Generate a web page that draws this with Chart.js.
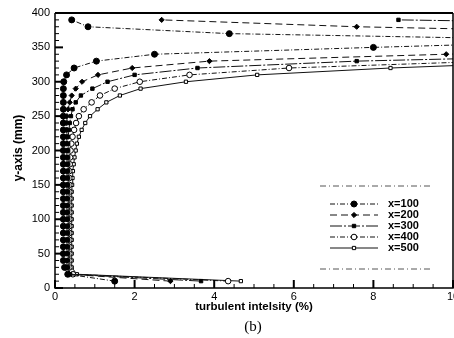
<!DOCTYPE html>
<html>
<head>
<meta charset="utf-8">
<script src="https://cdn.jsdelivr.net/npm/chart.js@4.4.1/dist/chart.umd.min.js"></script>
<style>
  html, body { margin: 0; padding: 0; background: #fff; }
</style>
</head>
<body>
<canvas id="chart" width="454" height="338"></canvas>
<script>
// y positions (mm) of the measuring points
const yLevels = [10, 20, 30, 40, 50, 60, 70, 80, 90, 100,
  110, 120, 130, 140, 150, 160, 170, 180, 190, 200,
  210, 220, 230, 240, 250, 260, 270, 280, 290, 300,
  310, 320, 330, 340, 350, 360, 370, 380, 390];

// turbulent intensity (%) per section (values > 10 run off the frame)
const x100 = [1.5, 0.32, 0.24, 0.21, 0.21, 0.21, 0.21, 0.21, 0.21, 0.21,
  0.21, 0.21, 0.21, 0.21, 0.21, 0.21, 0.21, 0.21, 0.21, 0.21,
  0.21, 0.21, 0.21, 0.21, 0.21, 0.21, 0.21, 0.21, 0.21, 0.22,
  0.29, 0.48, 1.04, 2.5, 8.0, 14, 4.38, 0.83, 0.42];
const x200 = [2.9, 0.36, 0.3, 0.3, 0.3, 0.3, 0.3, 0.3, 0.3, 0.3,
  0.3, 0.3, 0.3, 0.3, 0.3, 0.3, 0.3, 0.3, 0.3, 0.3,
  0.3, 0.3, 0.3, 0.3, 0.3, 0.33, 0.37, 0.42, 0.52, 0.68,
  1.08, 1.94, 3.88, 9.83, 16, 20, 16, 7.58, 2.68];
const x300 = [3.67, 0.38, 0.33, 0.33, 0.33, 0.33, 0.33, 0.33, 0.33, 0.33,
  0.33, 0.33, 0.33, 0.33, 0.33, 0.33, 0.33, 0.33, 0.33, 0.33,
  0.33, 0.33, 0.35, 0.37, 0.4, 0.44, 0.52, 0.65, 0.94, 1.32,
  2.0, 3.58, 7.58, 15, 20, 22, 22, 20, 8.63];
const x400 = [4.35, 0.45, 0.36, 0.36, 0.36, 0.36, 0.36, 0.36, 0.36, 0.36,
  0.36, 0.36, 0.36, 0.36, 0.36, 0.36, 0.36, 0.37, 0.38, 0.39,
  0.41, 0.44, 0.48, 0.53, 0.6, 0.72, 0.92, 1.13, 1.5, 2.13,
  3.38, 5.88, 11];
const x500 = [4.67, 0.55, 0.42, 0.42, 0.42, 0.42, 0.42, 0.42, 0.42, 0.42,
  0.42, 0.42, 0.42, 0.42, 0.43, 0.44, 0.45, 0.47, 0.49, 0.52,
  0.55, 0.6, 0.67, 0.76, 0.88, 1.07, 1.29, 1.63, 2.15, 3.29,
  5.08, 8.43, 13];

const seriesNames = ['x=100', 'x=200', 'x=300', 'x=400', 'x=500'];
const xTicks = [0, 2, 4, 6, 8, 10];
const yTicks = [0, 50, 100, 150, 200, 250, 300, 350, 400];
const xTitle = 'turbulent intelsity (%)';
const yTitle = 'y-axis (mm)';
const caption = '(b)';

const toPoints = xs => xs.map((v, i) => ({ x: v, y: yLevels[i] }));

const styles = [
  { pointStyle: 'circle', radius: 3, fill: '#000', dash: [5, 2, 1, 2] },
  { pointStyle: 'rectRot', radius: 2.6, fill: '#000', dash: [7, 4] },
  { pointStyle: 'rect', radius: 2.4, fill: '#000', dash: [12, 2, 2, 2] },
  { pointStyle: 'circle', radius: 2.8, fill: '#fff', dash: [5, 2, 1, 2] },
  { pointStyle: 'rect', radius: 2.3, fill: '#fff', dash: [] },
];

const datasets = [x100, x200, x300, x400, x500].map((xs, i) => ({
  label: seriesNames[i],
  data: toPoints(xs),
  showLine: true,
  borderColor: '#111',
  borderWidth: 1,
  borderDash: styles[i].dash,
  pointStyle: styles[i].pointStyle,
  pointRadius: styles[i].radius,
  pointBackgroundColor: styles[i].fill,
  pointBorderColor: '#000',
  pointBorderWidth: 1,
}));

const FONT = '"Liberation Sans", Arial, sans-serif';

// inward tick marks, x tick labels and frame
const frameTicks = {
  id: 'frameTicks',
  afterDatasetsDraw(chart) {
    const { ctx, chartArea: a, scales: { x, y } } = chart;
    ctx.save();
    ctx.strokeStyle = '#000';
    for (let k = 0; k <= 20; k++) {
      const px = x.getPixelForValue(k * 0.5);
      const major = k % 4 === 0;
      ctx.lineWidth = major ? 2 : 1;
      ctx.beginPath();
      ctx.moveTo(px, a.bottom);
      ctx.lineTo(px, a.bottom - (major ? 8 : 4));
      ctx.stroke();
    }
    for (let k = 0; k <= 40; k++) {
      const py = y.getPixelForValue(k * 10);
      const major = k % 5 === 0;
      ctx.lineWidth = major ? 2 : 1;
      ctx.beginPath();
      ctx.moveTo(a.left, py);
      ctx.lineTo(a.left + (major ? 8 : 4), py);
      ctx.stroke();
    }
    ctx.lineWidth = 1.5;
    ctx.beginPath();
    ctx.moveTo(a.left, a.top);
    ctx.lineTo(a.left, a.bottom);
    ctx.lineTo(a.right, a.bottom);
    ctx.lineTo(a.right, a.top);
    ctx.stroke();
    ctx.lineWidth = 2.2;
    ctx.beginPath();
    ctx.moveTo(a.left, a.top);
    ctx.lineTo(a.right, a.top);
    ctx.stroke();

    ctx.fillStyle = '#000';
    ctx.font = '11px ' + FONT;
    ctx.textAlign = 'center';
    ctx.textBaseline = 'top';
    xTicks.forEach(v => ctx.fillText(String(v), x.getPixelForValue(v), a.bottom + 3));
    ctx.restore();
  }
};

// legend box in the lower right of the plot
const boxLegend = {
  id: 'boxLegend',
  afterDraw(chart) {
    const { ctx } = chart;
    ctx.save();
    ctx.strokeStyle = '#555';
    ctx.lineWidth = 1;
    ctx.setLineDash([6, 3, 1, 3]);
    ctx.beginPath();
    ctx.moveTo(320, 186); ctx.lineTo(430, 186);
    ctx.moveTo(320, 269); ctx.lineTo(430, 269);
    ctx.stroke();
    chart.data.datasets.forEach((ds, i) => {
      const yy = 204 + i * 11;
      ctx.setLineDash(ds.borderDash);
      ctx.strokeStyle = ds.borderColor;
      ctx.lineWidth = 1;
      ctx.beginPath();
      ctx.moveTo(330, yy); ctx.lineTo(378, yy);
      ctx.stroke();
      ctx.setLineDash([]);
      ctx.fillStyle = ds.pointBackgroundColor;
      ctx.strokeStyle = '#000';
      Chart.helpers.drawPoint(ctx, {
        pointStyle: ds.pointStyle, radius: ds.pointRadius, rotation: 0, borderWidth: 1
      }, 354, yy);
      ctx.fillStyle = '#000';
      ctx.font = 'bold 11px ' + FONT;
      ctx.textBaseline = 'middle';
      ctx.textAlign = 'left';
      ctx.fillText(ds.label, 388, yy);
    });
    ctx.restore();
  }
};

// axis titles and caption
const titles = {
  id: 'titles',
  afterDraw(chart) {
    const { ctx } = chart;
    ctx.save();
    ctx.fillStyle = '#000';
    ctx.textAlign = 'center';
    ctx.textBaseline = 'middle';
    ctx.font = 'bold 11.5px ' + FONT;
    ctx.fillText(xTitle, 254, 307);
    ctx.translate(19, 148);
    ctx.rotate(-Math.PI / 2);
    ctx.font = 'bold 12px ' + FONT;
    ctx.fillText(yTitle, 0, 0);
    ctx.setTransform(1, 0, 0, 1, 0, 0);
    ctx.font = '15px "Liberation Serif", "Times New Roman", serif';
    ctx.fillText(caption, 253, 327);
    ctx.restore();
  }
};

new Chart(document.getElementById('chart'), {
  type: 'scatter',
  data: { datasets },
  options: {
    responsive: false,
    animation: false,
    layout: { autoPadding: false, padding: { top: 13, right: 1, left: 0, bottom: 0 } },
    plugins: { legend: { display: false }, tooltip: { enabled: false } },
    scales: {
      x: {
        type: 'linear', min: 0, max: 10,
        afterBuildTicks: s => { s.ticks = xTicks.map(v => ({ value: v })); },
        ticks: { display: false },
        grid: { display: false, drawTicks: false },
        border: { display: false },
        afterFit: s => { s.height = 50; s.paddingLeft = 0; s.paddingRight = 0; },
      },
      y: {
        type: 'linear', min: 0, max: 400,
        afterBuildTicks: s => { s.ticks = yTicks.map(v => ({ value: v })); },
        ticks: { color: '#000', font: { family: FONT, size: 11 }, padding: 5, autoSkip: false },
        grid: { display: false, drawTicks: false },
        border: { display: false },
        afterFit: s => { s.width = 55; s.paddingTop = 0; s.paddingBottom = 0; },
      },
    },
  },
  plugins: [frameTicks, boxLegend, titles],
});
</script>
</body>
</html>
